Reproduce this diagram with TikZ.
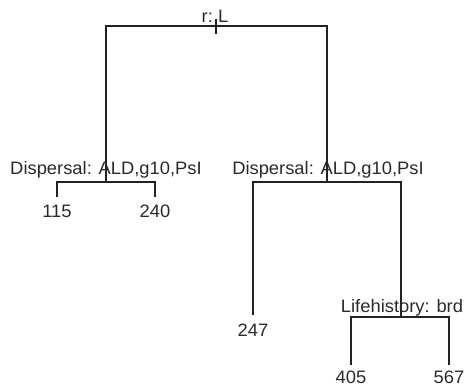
\documentclass[tikz,border=0pt]{standalone}
\usepackage{fontspec}
\setmainfont{Liberation Sans}[FakeStretch=1.02]
\definecolor{ink}{HTML}{222222}
\definecolor{txt}{HTML}{2A2A2A}
\begin{document}
\begin{tikzpicture}[x=1pt,y=-1pt,
  edge/.style={draw=ink,line width=1.4pt},
  lbl/.style={inner sep=0pt,anchor=base,text=txt,font=\fontsize{18}{21}\selectfont}]
\useasboundingbox[fill=white] (0,0) rectangle (465,387);
% tree points
\coordinate (root) at (216,26);
\coordinate (d1) at (106,182);
\coordinate (d2) at (327,182);
\coordinate (a115) at (57,197);
\coordinate (a240) at (155,197);
\coordinate (a247) at (253,315);
\coordinate (lh) at (401,317);
\coordinate (a405) at (351,365);
\coordinate (a567) at (449,365);
\coordinate (tk1) at (216,19);
\coordinate (tk2) at (216,34);
% connectors
\draw[edge] (root) -| (d1);
\draw[edge] (root) -| (d2);
\draw[edge] (tk1) -- (tk2);
\draw[edge] (d1) -| (a115);
\draw[edge] (d1) -| (a240);
\draw[edge] (d2) -| (a247);
\draw[edge] (d2) -| (lh);
\draw[edge] (lh) -| (a405);
\draw[edge] (lh) -| (a567);
% labels
\node[lbl] (tr) at (215,23) {r:\ L};
\node[lbl] (t1) at (106,175) {Dispersal: ALD,g10,PsI};
\node[lbl] (t2) at (328,175) {Dispersal: ALD,g10,PsI};
\node[lbl] (t3) at (402,312) {Lifehistory: brd};
\node[lbl] (n115) at (57,218) {115};
\node[lbl] (n240) at (155,218) {240};
\node[lbl] (n247) at (253,336) {247};
\node[lbl] (n405) at (351,383) {405};
\node[lbl] (n567) at (449,383) {567};
\end{tikzpicture}
\end{document}
